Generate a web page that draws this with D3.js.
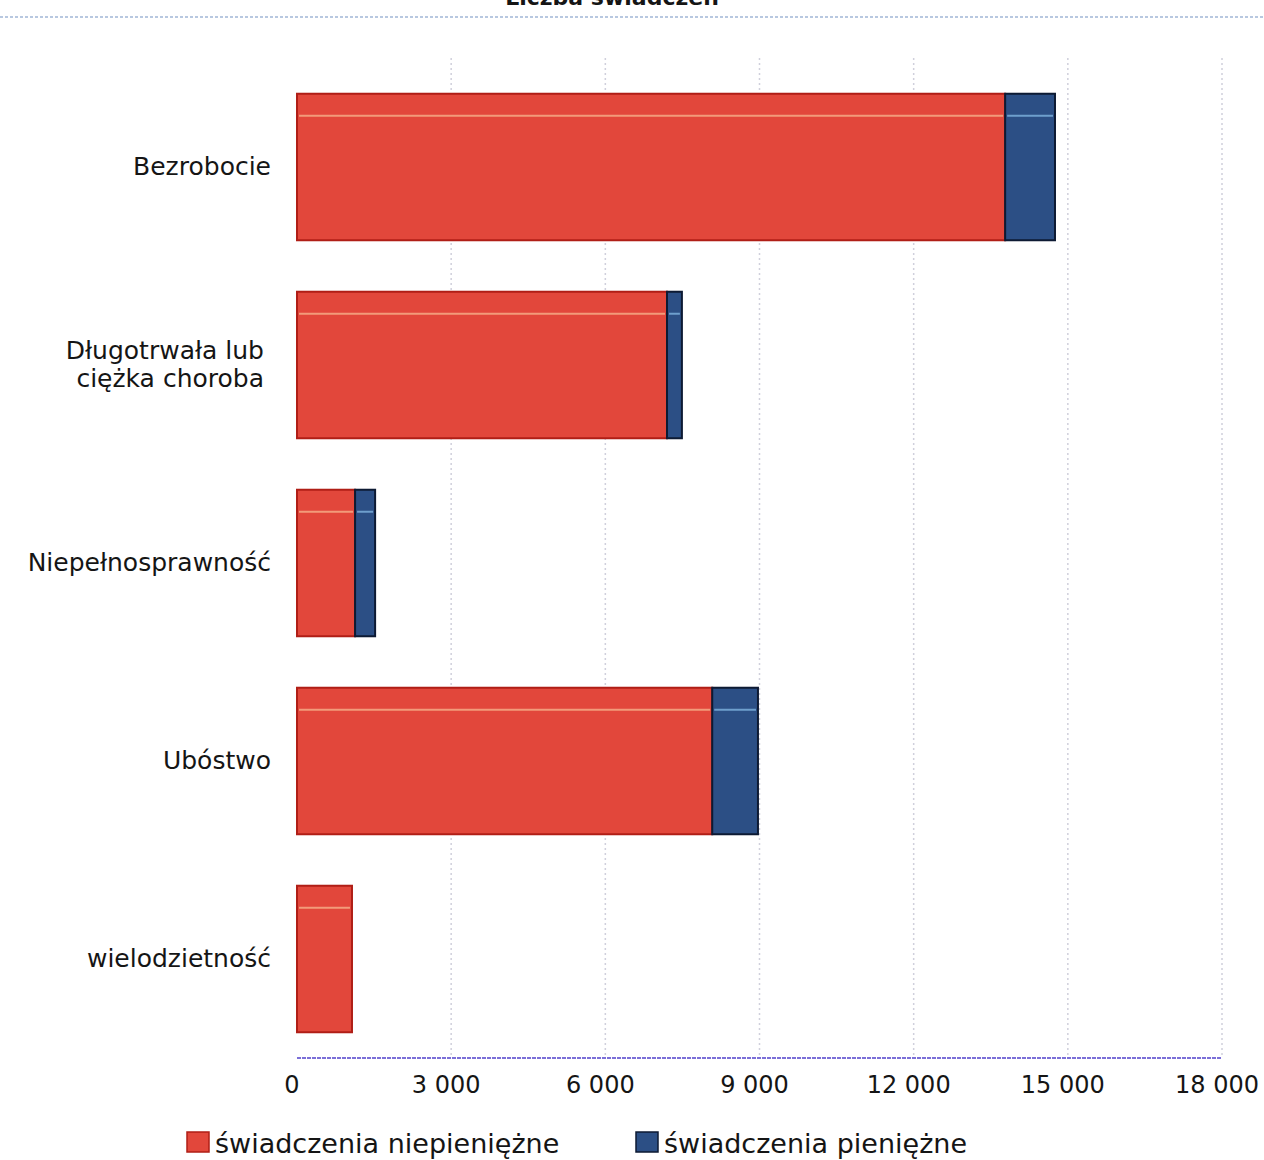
<!DOCTYPE html>
<html><head><meta charset="utf-8">
<script src="https://cdn.jsdelivr.net/npm/d3@7"></script>
<style>
html,body{margin:0;padding:0;background:#fff;}
svg text{font-family:"DejaVu Sans",Verdana,sans-serif;fill:#151515;}
</style></head>
<body>
<svg id="c" width="1264" height="1160"></svg>
<script>
const categories = ["Bezrobocie", "Długotrwała lub\nciężka choroba", "Niepełnosprawność", "Ubóstwo", "wielodzietność"];
const nonCash = [13780, 7200, 1130, 8080, 1070];
const cash = [970, 290, 390, 890, 0];
const seriesNames = ["świadczenia niepieniężne", "świadczenia pieniężne"];
const tickValues = [0, 3000, 6000, 9000, 12000, 15000, 18000];
const title = "Liczba świadczeń";

const colors = ["#e2473b", "#2c4f85"];
const strokes = ["#b01e16", "#0d1a33"];

const svg = d3.select("#c");
const pLeft = 297, pRight = 1222, pTop = 68, pBottom = 1058;

const x = d3.scaleLinear().domain([0, 18000]).range([pLeft, pRight]);
const y = d3.scaleBand().domain(categories).range([pTop, pBottom]).paddingInner(0.26).paddingOuter(0.13);

// title (cut at top edge, as in the reference)
svg.append("text").attr("x", 612).attr("y", 5).attr("text-anchor", "middle")
  .style("font-size", "22px").style("font-weight", "bold").text(title);
svg.append("line").attr("x1", 0).attr("x2", 1264).attr("y1", 17).attr("y2", 17)
  .attr("stroke", "#b8c8e0").attr("stroke-width", 2).attr("stroke-dasharray", "3,2");

// gridlines
svg.append("g").selectAll("line").data(tickValues.slice(1)).join("line")
  .attr("x1", d => x(d)).attr("x2", d => x(d)).attr("y1", pTop - 10).attr("y2", pBottom)
  .attr("stroke", "#d0d0dc").attr("stroke-width", 1.5).attr("stroke-dasharray", "2,3");

// stacked data
const data = categories.map((c, i) => ({cat: c, vals: [nonCash[i], cash[i]]}));
const stack = d3.stack().keys([0, 1]).value((d, k) => d.vals[k]);
const layers = stack(data);

const g = svg.append("g");
layers.forEach((layer, k) => {
  const seg = layer.filter(d => d[1] - d[0] > 0);
  g.selectAll(null).data(seg).join("rect")
    .attr("x", d => x(d[0])).attr("width", d => x(d[1]) - x(d[0]))
    .attr("y", d => y(d.data.cat)).attr("height", y.bandwidth())
    .attr("fill", colors[k]).attr("stroke", strokes[k]).attr("stroke-width", 2);
  g.selectAll(null).data(seg).join("line")
    .attr("x1", d => x(d[0]) + 2).attr("x2", d => x(d[1]) - 2)
    .attr("y1", d => y(d.data.cat) + 22).attr("y2", d => y(d.data.cat) + 22)
    .attr("stroke", k === 0 ? "#f6b08a" : "#7fb3e0").attr("stroke-width", 2).attr("opacity", 0.8);
});

// category labels
const lab = svg.append("g");
categories.forEach(c => {
  const lines = c.split("\n");
  const cy = y(c) + y.bandwidth() / 2;
  const t = lab.append("text").attr("text-anchor", "end").style("font-size", "25px");
  lines.forEach((ln, i) => {
    t.append("tspan").attr("x", lines.length > 1 ? 264 : 271)
      .attr("y", cy + 8 + (i - (lines.length - 1) / 2) * 28).text(ln);
  });
});

// x axis
svg.append("line").attr("x1", pLeft).attr("x2", pRight).attr("y1", pBottom).attr("y2", pBottom)
  .attr("stroke", "#7b6fd8").attr("stroke-width", 2).attr("stroke-dasharray", "4,1");
const fmt = d => d3.format(",")(d).replace(/,/g, " ");
svg.append("g").selectAll("text").data(tickValues).join("text")
  .attr("x", d => x(d) - 5).attr("y", 1093).attr("text-anchor", "middle")
  .style("font-size", "24px").text(fmt);

// legend
const leg = svg.append("g");
const legX = [187, 636];
seriesNames.forEach((n, k) => {
  leg.append("rect").attr("x", legX[k]).attr("y", 1132).attr("width", 22).attr("height", 20)
    .attr("fill", colors[k]).attr("stroke", strokes[k]).attr("stroke-width", 1.5);
  leg.append("text").attr("x", legX[k] + 28).attr("y", 1153).style("font-size", "27px").text(n);
});
</script>
</body></html>
